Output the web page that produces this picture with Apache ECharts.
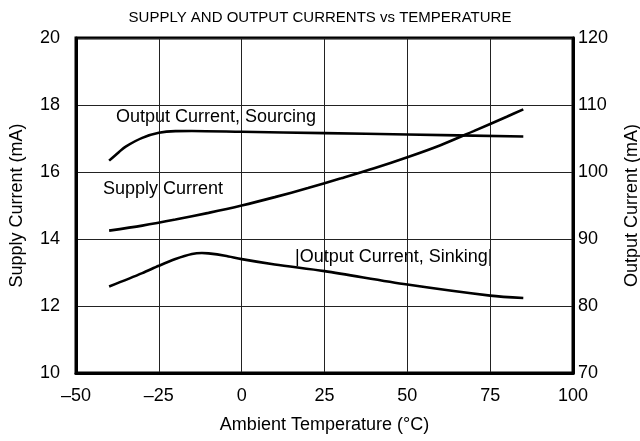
<!DOCTYPE html>
<html><head><meta charset="utf-8">
<script src="https://cdn.jsdelivr.net/npm/echarts@6/dist/echarts.min.js"></script>
<style>html,body{margin:0;padding:0;background:#fff}#c{width:640px;height:441px}</style>
</head><body><div id="c"></div>
<script>
var xTicks = [-50, -25, 0, 25, 50, 75, 100];
var leftTicks = [10, 12, 14, 16, 18, 20];
var rightTicks = [70, 80, 90, 100, 110, 120];

var supplyTemps = [-40, -30, -20, -10, 0, 10, 20, 30, 40, 50, 60, 70, 80, 85];
var supplyValues = [14.25, 14.40, 14.58, 14.78, 15.0, 15.25, 15.52, 15.81, 16.11, 16.44, 16.80, 17.22, 17.65, 17.87];

var sourcingTemps = [-40, -37, -35, -30, -25, -20, -15, 0, 25, 50, 85];
var sourcingValues = [101.7, 103.0, 103.8, 105.1, 105.85, 106.1, 106.12, 106.0, 105.8, 105.6, 105.3];

var sinkingTemps = [-40, -30, -25, -20, -15, -12, -10, -5, 0, 10, 25, 50, 75, 85];
var sinkingValues = [82.9, 84.9, 86.0, 87.0, 87.75, 87.9, 87.85, 87.5, 87.0, 86.2, 85.2, 83.2, 81.55, 81.2];

function pairs(xs, ys) { return xs.map(function (x, i) { return [x, ys[i]]; }); }

var FONT = 'Liberation Sans, Arial, sans-serif';
var FS = 18;
var chart = echarts.init(document.getElementById('c'), null, { renderer: 'canvas' });
var lineStyle = { color: '#000', width: 2.6 };
chart.setOption({
  animation: false,
  backgroundColor: '#fff',
  textStyle: { fontFamily: FONT },
  title: {
    text: 'SUPPLY AND OUTPUT CURRENTS vs TEMPERATURE',
    left: 'center', top: 5,
    textStyle: { fontFamily: FONT, fontSize: 15, fontWeight: 'normal', color: '#000' }
  },
  grid: { left: 76, right: 67, top: 38, bottom: 68, show: true, borderColor: '#000', borderWidth: 3,
    containLabel: false, outerBoundsMode: 'none' },
  xAxis: {
    type: 'value', min: xTicks[0], max: xTicks[xTicks.length - 1], interval: 25,
    name: 'Ambient Temperature (\u00B0C)', nameLocation: 'middle', nameGap: 43,
    nameTextStyle: { fontFamily: FONT, fontSize: FS, color: '#000' },
    axisLine: { show: true, onZero: false, lineStyle: { color: '#000', width: 3 } },
    axisTick: { show: false },
    axisLabel: { margin: 14, fontFamily: FONT, fontSize: FS, color: '#000',
      formatter: function (v) { return String(v).replace('-', '\u2013'); } },
    splitLine: { show: true, lineStyle: { color: '#222', width: 1 } }
  },
  yAxis: [{
    type: 'value', min: leftTicks[0], max: leftTicks[leftTicks.length - 1], interval: 2,
    name: 'Supply Current (mA)', nameLocation: 'middle', nameGap: 50, nameRotate: 90,
    nameTextStyle: { fontFamily: FONT, fontSize: FS, color: '#000' },
    axisLine: { show: true, onZero: false, lineStyle: { color: '#000', width: 3 } },
    axisTick: { show: false },
    axisLabel: { margin: 16, fontFamily: FONT, fontSize: FS, color: '#000' },
    splitLine: { show: true, lineStyle: { color: '#222', width: 1 } }
  }, {
    type: 'value', min: rightTicks[0], max: rightTicks[rightTicks.length - 1], interval: 10,
    position: 'right',
    name: 'Output Current (mA)', nameLocation: 'middle', nameGap: 50, nameRotate: 90,
    nameTextStyle: { fontFamily: FONT, fontSize: FS, color: '#000' },
    axisLine: { show: true, onZero: false, lineStyle: { color: '#000', width: 3 } },
    axisTick: { show: false },
    axisLabel: { margin: 5, fontFamily: FONT, fontSize: FS, color: '#000' },
    splitLine: { show: false }
  }],
  series: [{
    name: 'Supply Current', type: 'line', yAxisIndex: 0, smooth: 0.3, showSymbol: false,
    data: pairs(supplyTemps, supplyValues), lineStyle: lineStyle
  }, {
    name: 'Output Current, Sourcing', type: 'line', yAxisIndex: 1, smooth: 0.3, showSymbol: false,
    data: pairs(sourcingTemps, sourcingValues), lineStyle: lineStyle
  }, {
    name: '|Output Current, Sinking|', type: 'line', yAxisIndex: 1, smooth: 0.3, showSymbol: false,
    data: pairs(sinkingTemps, sinkingValues), lineStyle: lineStyle
  }],
  graphic: [
    { type: 'text', left: 116, top: 108, style: { text: 'Output Current, Sourcing', font: FS + 'px ' + FONT, fill: '#000' } },
    { type: 'text', left: 103, top: 180, style: { text: 'Supply Current', font: FS + 'px ' + FONT, fill: '#000' } },
    { type: 'text', left: 295, top: 248, style: { text: '|Output Current, Sinking|', font: FS + 'px ' + FONT, fill: '#000' } }
  ]
});
</script>
</body></html>
